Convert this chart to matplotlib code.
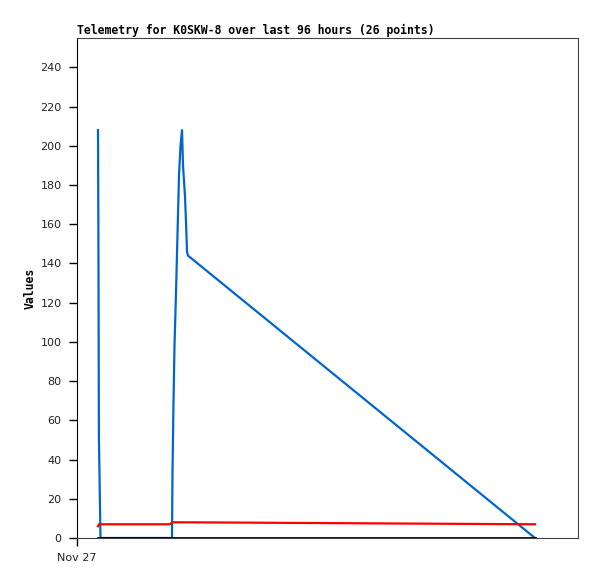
import matplotlib
matplotlib.use("Agg")
import matplotlib.pyplot as plt

# hours since Nov 27 00:00
hours_blue = [4.19, 4.27, 4.37, 4.69, 18.96, 19.06, 19.26, 19.46, 19.76, 20.06,
              20.36, 20.66, 20.96, 21.16, 21.56, 21.76, 21.96, 22.16, 91.42]
blue = [208, 156, 52, 0, 0, 33, 69, 98, 125, 155,
        185, 200, 208, 190, 174, 161, 146, 144, 0]

hours_red = [4.19, 4.39, 18.6, 18.96, 22.16, 91.42]
red = [6, 7, 7, 8, 8, 7]

hours_black = [4.19, 91.42]
black = [0, 0]

xticks = [0]
xtick_labels = ["Nov 27"]
yticks = list(range(0, 241, 20))

fig = plt.figure(figsize=(5.97, 5.79), dpi=100)
ax = fig.add_axes([77 / 597, 1 - 538 / 579, 501 / 597, 500 / 579])

ax.plot(hours_blue, blue, color="#0066cc", lw=1.6, zorder=2)
ax.plot(hours_red, red, color="#ff0000", lw=1.6, zorder=3)
ax.plot(hours_black, black, color="#000000", lw=2.0, zorder=4)

ax.set_xlim(0, 100)
ax.set_ylim(0, 255)
ax.set_xticks(xticks)
ax.set_xticklabels(xtick_labels)
ax.set_yticks(yticks)
ax.tick_params(direction="out", length=6, width=1, labelsize=8, pad=5,
               colors="black")
for lab in ax.get_xticklabels() + ax.get_yticklabels():
    lab.set_family("DejaVu Sans")
    lab.set_color("#222222")

for side in ["top", "right", "bottom"]:
    ax.spines[side].set_color("#444444")
ax.spines["left"].set_color("black")

ax.set_title("Telemetry for K0SKW-8 over last 96 hours (26 points)",
             loc="left", family="DejaVu Sans Mono", fontweight="bold",
             fontsize=8.3, pad=3)
ax.set_ylabel("Values", family="DejaVu Sans Mono", fontweight="bold",
              fontsize=8.3, labelpad=3)

fig.savefig("out.png", dpi=100)
